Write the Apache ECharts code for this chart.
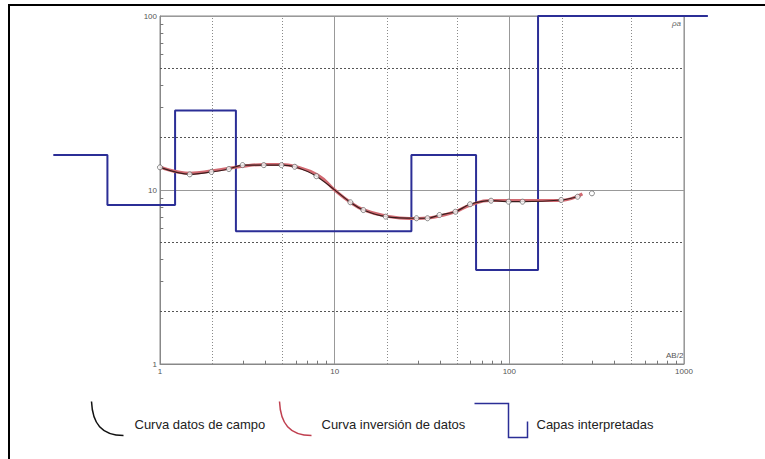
<!DOCTYPE html>
<html><head><meta charset="utf-8">
<script src="https://cdn.jsdelivr.net/npm/echarts@6/dist/echarts.min.js"></script>
<style>html,body{margin:0;padding:0;background:#fff}#c{width:765px;height:459px}</style>
</head><body><div id="c"></div>
<script>
// ---- data ----
const fieldAB  = [1.0, 1.48, 1.97, 2.48, 2.97, 3.93, 4.96, 5.91, 7.86, 12.3, 14.6, 19.6, 29.4, 34.0, 39.8, 49.1, 59.6, 78.6, 99, 119, 198, 246, 297];
const fieldRho = [13.5, 12.3, 12.7, 13.2, 13.9, 13.9, 13.9, 13.6, 12.0, 8.5, 7.67, 7.03, 6.88, 6.88, 7.18, 7.5, 8.28, 8.68, 8.57, 8.57, 8.76, 9.15, 9.57];
const invAB  = [1, 1.48, 2, 3, 4, 5, 6, 8, 10, 12.3, 14.6, 19.6, 26.8, 34, 40, 49, 60, 78, 98, 118, 194, 262];
const invRho = [13.6, 12.5, 12.9, 13.7, 14.0, 14.0, 13.6, 12.2, 10.0, 8.5, 7.7, 7.1, 6.85, 6.9, 7.1, 7.5, 8.2, 8.7, 8.7, 8.7, 8.7, 9.5];
const layerBounds = [0.245, 0.5, 1.22, 2.72, 27.5, 64.5, 146, 1370];
const layerRho    = [15.9, 8.2, 28.6, 5.8, 15.9, 3.47, 100];
const xTickLabels = [1, 10, 100, 1000];
const yTickLabels = [1, 10, 100];
const dottedX = [2, 5, 20, 50, 200, 500];
const dottedY = [2, 5, 20, 50];
const minorX = [3, 4, 6, 7, 8, 9, 30, 40, 60, 70, 80, 90, 300, 400, 600, 700, 800, 900];
const minorY = [3, 4, 6, 7, 8, 9, 30, 40, 60, 70, 80, 90];
const legendNames = ['Curva datos de campo', 'Curva inversión de datos', 'Capas interpretadas'];

// ---- build ----
const chart = echarts.init(document.getElementById('c'), null, {renderer: 'svg'});
const fieldPts = fieldAB.map((x, i) => [x, fieldRho[i]]);
const invPts = invAB.map((x, i) => [x, invRho[i]]);
const layerPts = [];
layerRho.forEach((r, i) => { layerPts.push([layerBounds[i], r]); layerPts.push([layerBounds[i + 1], r]); });

const xMin = xTickLabels[0], xMax = xTickLabels[xTickLabels.length - 1];
const yMin = yTickLabels[0], yMax = yTickLabels[yTickLabels.length - 1];

// main plot box
const G = {left: 160, right: 81, top: 16, bottom: 95};
const plotW = 765 - G.left - G.right;
const perDecade = plotW / Math.log10(xMax / xMin);
// wider (invisible) axis used by the layer model so it can run past the plot box
const wideMin = 0.2, wideMax = 2000;
const G2 = {
  left: G.left - Math.log10(xMin / wideMin) * perDecade,
  right: 765 - (G.left + plotW + Math.log10(wideMax / xMax) * perDecade),
  top: G.top, bottom: G.bottom
};

const markData = [];
dottedX.forEach(v => markData.push({xAxis: v, lineStyle: {type: [1, 2], color: '#8a8a8a', width: 1}}));
dottedY.forEach(v => markData.push({yAxis: v, lineStyle: {type: [2, 2], color: '#555', width: 1}}));
minorX.forEach(v => markData.push([{coord: [v, yMin], lineStyle: {type: 'solid', color: '#777', width: 1}}, {coord: [v, yMin * 1.045]}]));
minorY.forEach(v => markData.push([{coord: [xMin, v], lineStyle: {type: 'solid', color: '#777', width: 1}}, {coord: [xMin * 1.045, v]}]));

// legend icons: invisible move-to points fix the icon box (64 px tall) so text centres line up
const arcIcon = 'path://M0,0 M32,64 M0,9 C1,31 10,43 32,43';
const stepIcon = 'path://M0,0 M53,64 M0,11 L34,11 L34,45 L53,45 L53,29';
const font = 'Liberation Sans, Arial, sans-serif';

function legendFor(name, left, w, icon, color, padLeft) {
  return {
    left: left, top: 390, padding: 0, orient: 'horizontal', itemWidth: w, itemHeight: 64,
    selectedMode: false,
    data: [{name: name, icon: icon, itemStyle: {color: 'none', borderColor: color, borderWidth: 1.5}}],
    textStyle: {fontSize: 13, color: '#222', fontFamily: font, padding: [0, 0, 0, padLeft]}
  };
}

const hiddenAxis = {show: false, axisLine: {show: false}, axisTick: {show: false}, axisLabel: {show: false}, splitLine: {show: false}};

chart.setOption({
  animation: false,
  backgroundColor: '#fff',
  grid: [
    Object.assign({show: true, borderColor: '#888', borderWidth: 1}, G),
    Object.assign({show: false}, G2)
  ],
  xAxis: [{
    type: 'log', logBase: 10, min: xMin, max: xMax, gridIndex: 0,
    axisLine: {show: true, lineStyle: {color: '#888', width: 1}},
    axisTick: {show: false},
    splitLine: {show: true, lineStyle: {color: '#999', width: 1}},
    axisLabel: {fontSize: 8, color: '#555', margin: 3, fontFamily: font, formatter: v => String(Math.round(v))}
  }, Object.assign({type: 'log', logBase: 10, min: wideMin, max: wideMax, gridIndex: 1}, hiddenAxis)],
  yAxis: [{
    type: 'log', logBase: 10, min: yMin, max: yMax, gridIndex: 0,
    axisLine: {show: true, lineStyle: {color: '#888', width: 1}},
    axisTick: {show: false},
    splitLine: {show: true, lineStyle: {color: '#999', width: 1}},
    axisLabel: {fontSize: 8, color: '#555', margin: 3, fontFamily: font, formatter: v => String(Math.round(v))}
  }, Object.assign({type: 'log', logBase: 10, min: yMin, max: yMax, gridIndex: 1}, hiddenAxis)],
  legend: [
    legendFor(legendNames[0], 89, 32, arcIcon, '#111', 6),
    legendFor(legendNames[1], 277, 32, arcIcon, '#c04050', 5),
    legendFor(legendNames[2], 472, 53, stepIcon, '#2b2e96', 4)
  ],
  series: [
    {
      name: legendNames[2], type: 'line', data: layerPts, symbol: 'none', clip: false, z: 2,
      xAxisIndex: 1, yAxisIndex: 1,
      lineStyle: {color: '#2b2e96', width: 2}, itemStyle: {color: '#2b2e96'}
    },
    {
      name: legendNames[1], type: 'line', data: invPts, symbol: 'none', smooth: 0.5, z: 3,
      lineStyle: {color: '#d26a72', width: 3}, itemStyle: {color: '#c04050'}
    },
    {
      name: legendNames[0], type: 'line', data: fieldPts.slice(0, fieldPts.length - 1), symbol: 'none', smooth: 0.3, z: 4,
      lineStyle: {color: '#3a1c1c', width: 1.2}, itemStyle: {color: '#111'},
      markLine: {silent: true, symbol: ['none', 'none'], label: {show: false}, animation: false, z: 1, data: markData}
    },
    {
      name: 'Puntos de campo', type: 'scatter', data: fieldPts, symbol: 'circle', symbolSize: 5, z: 5,
      itemStyle: {color: '#fff', borderColor: '#666', borderWidth: 1}
    }
  ],
  graphic: [
    {type: 'line', shape: {x1: 8, y1: 5, x2: 765, y2: 5}, style: {stroke: '#000', lineWidth: 2}},
    {type: 'line', shape: {x1: 9, y1: 5, x2: 9, y2: 459}, style: {stroke: '#000', lineWidth: 2}},
    {type: 'text', left: 672, top: 19, style: {text: 'ρa', fontSize: 8, fontStyle: 'italic', fill: '#666', fontFamily: font}},
    {type: 'text', left: 666, top: 351, style: {text: 'AB/2', fontSize: 8, fill: '#555', fontFamily: font}}
  ]
});
</script>
</body></html>
